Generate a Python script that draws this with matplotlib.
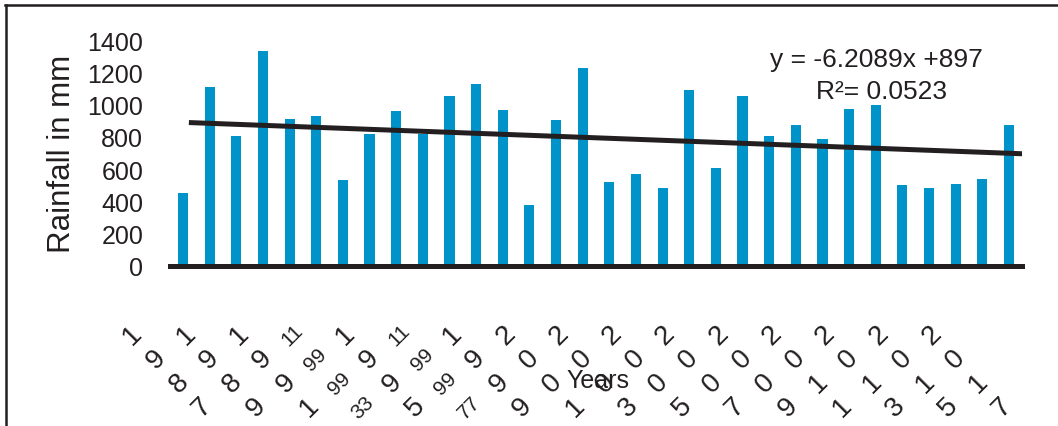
import matplotlib
matplotlib.use("Agg")
import matplotlib.pyplot as plt
from matplotlib.lines import Line2D
import numpy as np

# ---- data ----
years = list(range(1986, 2018))
rainfall = [449, 1109, 806, 1337, 912, 928, 532, 818, 963, 818,
            1053, 1131, 966, 375, 907, 1231, 518, 571, 480, 1094,
            605, 1053, 806, 874, 787, 972, 1001, 499, 482, 505, 540, 874]
tick_years = [str(y) for y in range(1987, 2018, 2)]
doubled_labels = ["1993", "1997"]
trend_slope = -6.2089
trend_intercept = 897
r_squared = "0.0523"
y_ticks = [0, 200, 400, 600, 800, 1000, 1200, 1400]

plt.rcParams['font.family'] = ['Liberation Sans', 'DejaVu Sans']
TXT = '#231F20'
BAR = '#0093C9'

W, H = 1058, 427
fig = plt.figure(figsize=(W / 100, H / 100), dpi=100)
fig.patch.set_facecolor('white')

ax_left, ax_right = 169.7, 1022.3
ax_zero, ax_top = 266.5, 41.5
ax = fig.add_axes([ax_left / W, 1 - ax_zero / H, (ax_right - ax_left) / W, (ax_zero - ax_top) / H])

x = np.arange(1, len(years) + 1)
ax.bar(x, rainfall, width=0.38, color=BAR, zorder=1)

xt = np.array([1.22, len(years) + 0.5])
ax.plot(xt, trend_slope * xt + trend_intercept, color=TXT, lw=3.6,
        solid_capstyle='butt', zorder=3)

ax.set_xlim(0.5, len(years) + 0.5)
ax.set_ylim(0, 1400)
for s in ['top', 'right', 'left']:
    ax.spines[s].set_visible(False)
ax.spines['bottom'].set_linewidth(3.6)
ax.spines['bottom'].set_color(TXT)
ax.spines['bottom'].set_zorder(4)
ax.set_xticks([])
ax.set_yticks(y_ticks)
ax.set_yticklabels([str(v) for v in y_ticks], fontsize=18, color=TXT)
ax.tick_params(axis='y', length=0, pad=19)

# y label
fig.text(62 / W, 1 - 153.5 / H, "Rainfall in mm", rotation=90, ha='center',
         va='center', fontsize=22.5, color=TXT)

# trend equation
fig.text(876.5 / W, 1 - 60 / H, f"y = {trend_slope}x +{trend_intercept}",
         ha='center', va='center', fontsize=19, color=TXT)
fig.text(882 / W, 1 - 92 / H, f"R\u00b2= {r_squared}",
         ha='center', va='center', fontsize=19, color=TXT)

# x axis title
fig.text(598 / W, 1 - 381 / H, "Years", ha='center', va='center',
         fontsize=18, color=TXT)

# rotated stacked year labels
px = 0.72
start = (-77, -69)
step = (23.3, -24.0)
for k, lab in enumerate(tick_years):
    bx = x[2 * k + 1]
    small = lab in doubled_labels
    for j, d in enumerate(lab):
        dx = (start[0] + step[0] * j) * px
        dy = (start[1] + step[1] * j) * px
        ax.annotate(d * 2 if small else d, xy=(bx, 0), xycoords='data',
                    xytext=(dx, dy), textcoords='offset points',
                    rotation=45, ha='center', va='center',
                    fontsize=15 if small else 20, color=TXT,
                    annotation_clip=False)

# frame lines
fig.add_artist(Line2D([5 / W, 1], [1 - 5.5 / H, 1 - 5.5 / H], color=TXT, lw=1.8,
                      transform=fig.transFigure))
fig.add_artist(Line2D([6 / W, 6 / W], [0, 1 - 5.5 / H], color=TXT, lw=1.8,
                      transform=fig.transFigure))

fig.savefig("out.png", dpi=100)
